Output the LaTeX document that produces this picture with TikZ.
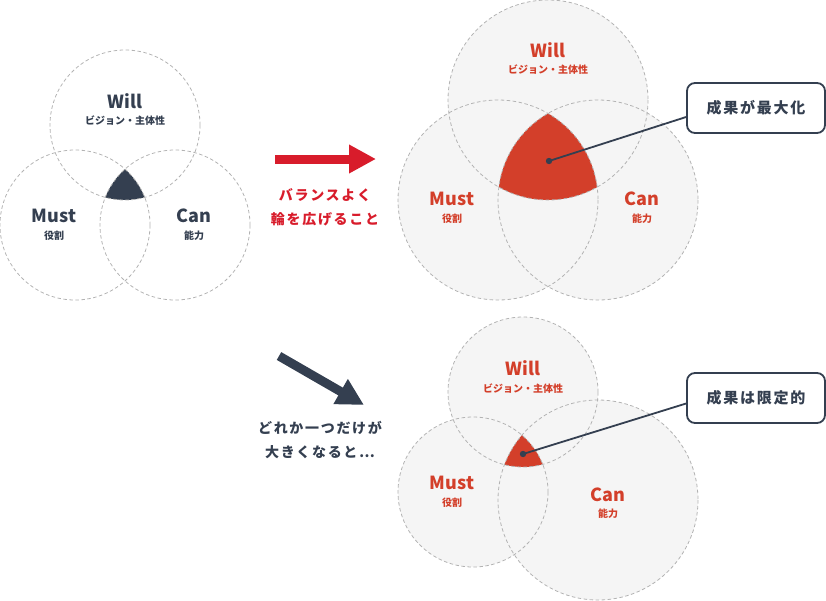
\documentclass[tikz,border=0pt]{standalone}
\usepackage{fontspec}
\setmainfont{Noto Sans CJK JP}
\newfontfamily\widefont{Noto Sans CJK JP}[LetterSpace=12]
\usetikzlibrary{arrows.meta}

\definecolor{navy}{HTML}{343F50}
\definecolor{ringgray}{HTML}{B3B3B3}
\definecolor{paper}{HTML}{F5F5F5}
\definecolor{crimson}{HTML}{D81C2B}
\definecolor{vermil}{HTML}{D33F2A}

\tikzset{
  ring/.style={draw=ringgray, dash pattern=on 3.5pt off 2.5pt, line width=0.8pt},
  title/.style={font=\fontsize{18}{20}\selectfont\bfseries},
  sub/.style={font=\fontsize{10}{12}\selectfont\bfseries},
  callout/.style={draw=navy, line width=1.8pt, rounded corners=8pt, fill=white,
    minimum width=138pt, minimum height=50pt, text=navy,
    font=\widefont\fontsize{15}{18}\selectfont\bfseries},
  caption/.style={align=center, font=\widefont\fontsize{14}{24}\selectfont\bfseries},
  bigarrow/.style={line width=9pt, -{Triangle[width=27pt,length=27pt]}},
}

\begin{document}
\begin{tikzpicture}[x=1pt,y=-1pt]
  \useasboundingbox (0,0) rectangle (826,600);

  % --- Venn (balance) ---
  \begin{scope}
    \clip (125,125) circle (75);
    \clip (75,225) circle (75);
    \fill[navy] (175,225) circle (75);
  \end{scope}
  \draw[ring] (125,125) circle (75);
  \draw[ring] (75,225) circle (75);
  \draw[ring] (175,225) circle (75);
  \node[title, text=navy] (willA) at (125,101) {Will};
  \node[sub, text=navy] (willAsub) at (125,121) {ビジョン・主体性};
  \node[title, text=navy] (mustA) at (54,216) {Must};
  \node[sub, text=navy] (mustAsub) at (54,236) {役割};
  \node[title, text=navy] (canA) at (194,216) {Can};
  \node[sub, text=navy] (canAsub) at (194,236) {能力};

  % --- arrows and captions ---
  \coordinate (balTail) at (275,159);
  \coordinate (balTip) at (376,159);
  \draw[bigarrow, crimson] (balTail) -- (balTip);
  \node[caption, text=crimson] (balText) at (325,207) {バランスよく\\輪を広げること};

  \coordinate (oneTail) at (279,356);
  \coordinate (oneTip) at (364,405);
  \draw[bigarrow, navy] (oneTail) -- (oneTip);
  \node[caption, text=navy] (oneText) at (320,440) {どれか一つだけが\\大きくなると⋯};

  % --- Venn (maximised) ---
  \fill[paper] (548,100) circle (100);
  \fill[paper] (498,200) circle (100);
  \fill[paper] (598,200) circle (100);
  \begin{scope}
    \clip (548,100) circle (100);
    \clip (498,200) circle (100);
    \fill[vermil] (598,200) circle (100);
  \end{scope}
  \draw[ring] (548,100) circle (100);
  \draw[ring] (498,200) circle (100);
  \draw[ring] (598,200) circle (100);
  \node[title, text=vermil] (willB) at (548,50) {Will};
  \node[sub, text=vermil] (willBsub) at (548,70) {ビジョン・主体性};
  \node[title, text=vermil] (mustB) at (452,199) {Must};
  \node[sub, text=vermil] (mustBsub) at (452,219) {役割};
  \node[title, text=vermil] (canB) at (642,199) {Can};
  \node[sub, text=vermil] (canBsub) at (642,219) {能力};

  \node[callout] (maxBox) at (756,108) {成果が最大化};
  \coordinate (maxDot) at (549,161);
  \draw[navy, line width=1.8pt] (maxDot) -- ([yshift=-9pt]maxBox.west);
  \fill[navy] (maxDot) circle (3.2);

  % --- Venn (limited) ---
  \fill[paper] (523,392) circle (75);
  \fill[paper] (473,492) circle (75);
  \fill[paper] (598,500) circle (100);
  \begin{scope}
    \clip (523,392) circle (75);
    \clip (473,492) circle (75);
    \fill[vermil] (598,500) circle (100);
  \end{scope}
  \draw[ring] (523,392) circle (75);
  \draw[ring] (473,492) circle (75);
  \draw[ring] (598,500) circle (100);
  \node[title, text=vermil] (willC) at (523,368) {Will};
  \node[sub, text=vermil] (willCsub) at (523,389) {ビジョン・主体性};
  \node[title, text=vermil] (mustC) at (452,483) {Must};
  \node[sub, text=vermil] (mustCsub) at (452,503) {役割};
  \node[title, text=vermil] (canC) at (608,495) {Can};
  \node[sub, text=vermil] (canCsub) at (608,514) {能力};

  \node[callout] (limBox) at (756,398) {成果は限定的};
  \coordinate (limDot) at (523,454);
  \draw[navy, line width=1.8pt] (limDot) -- ([yshift=-5.5pt]limBox.west);
  \fill[navy] (limDot) circle (3.2);

\end{tikzpicture}
\end{document}
